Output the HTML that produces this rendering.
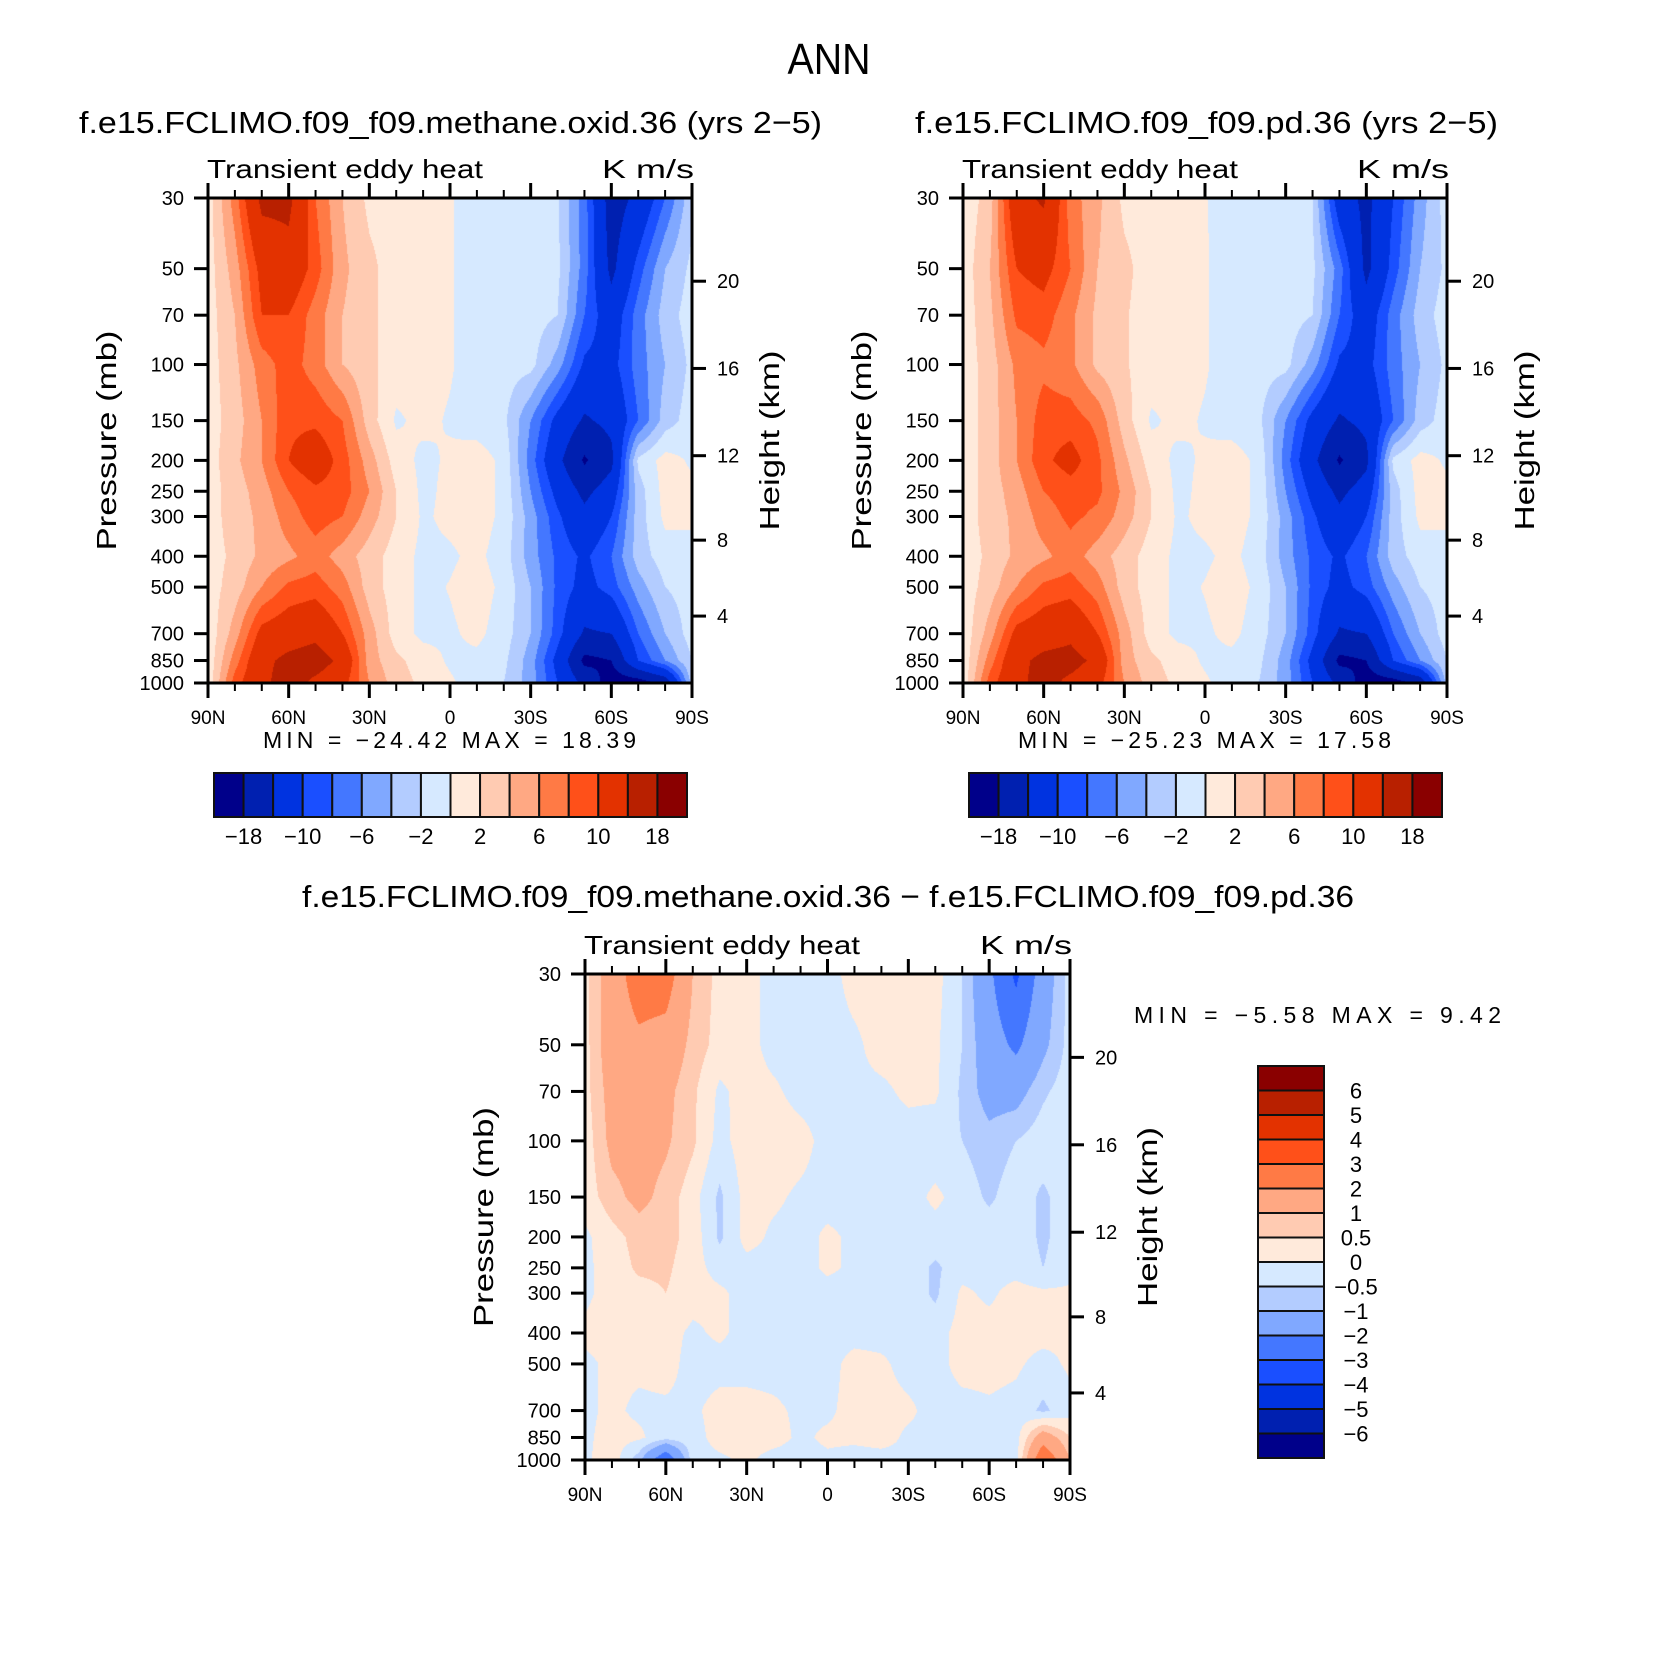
<!DOCTYPE html>
<html><head><meta charset="utf-8">
<style>
html,body{margin:0;padding:0;background:#fff;}
#root{position:relative;width:1658px;height:1660px;overflow:hidden;background:#fff;}
canvas{position:absolute;}
svg{position:absolute;left:0;top:0;}
text{font-family:"Liberation Sans",sans-serif;fill:#000;}
</style></head>
<body>
<div id="root">
<canvas id="c1" style="left:208px;top:198px" width="484" height="485"></canvas>
<canvas id="c2" style="left:963px;top:198px" width="484" height="485"></canvas>
<canvas id="c3" style="left:585px;top:974px" width="485" height="486"></canvas>
<svg id="ov" width="1658" height="1660">
<text x="829" y="74" font-size="44" text-anchor="middle" textLength="83" lengthAdjust="spacingAndGlyphs">ANN</text>
<text x="79" y="133" font-size="31" textLength="743" lengthAdjust="spacingAndGlyphs">f.e15.FCLIMO.f09_f09.methane.oxid.36 (yrs 2−5)</text>
<text x="915" y="133" font-size="31" textLength="583" lengthAdjust="spacingAndGlyphs">f.e15.FCLIMO.f09_f09.pd.36 (yrs 2−5)</text>
<text x="302" y="907" font-size="31" textLength="1052" lengthAdjust="spacingAndGlyphs">f.e15.FCLIMO.f09_f09.methane.oxid.36 − f.e15.FCLIMO.f09_f09.pd.36</text>
</svg>
</div>
<script>
// ---------- data ----------
const lats = [90,80,70,60,50,40,30,20,10,0,-10,-20,-30,-40,-50,-60,-70,-80,-90];
const plevs = [30,50,70,100,150,200,250,300,400,500,700,850,1000];
const pTicks = [30,50,70,100,150,200,250,300,400,500,700,850,1000];
const kmTicks = [4,8,12,16,20];
const latTickLabels = ["90N","60N","30N","0","30S","60S","90S"];
const levelsMain = [-18,-14,-10,-8,-6,-4,-2,0,2,4,6,8,10,14,18];
const levelsDiff = [-6,-5,-4,-3,-2,-1,-0.5,0,0.5,1,2,3,4,5,6];
const cbLabelsMain = ["−18","−10","−6","−2","2","6","10","18"];
const cbLabelsDiff = ["−6","−5","−4","−3","−2","−1","−0.5","0","0.5","1","2","3","4","5","6"];
const colors = ["#00008a","#0020b0","#0033e0","#1a4fff","#4477ff","#80a8ff","#b3ccff","#d6e9ff","#ffeadb","#ffcbb2","#ffa883","#ff7a45","#ff5019","#e33200","#b82000","#8a0000"];
const field1 = [
[1,7,15,15,8,4,1.5,1,1,0.2,-1,-1,-1,-1.8,-7,-16,-13,-8,-2.5],
[1,5,11,12.5,9,4.5,2.5,1,0.8,0.2,-1,-1,-1,-1.5,-7,-15,-9,-4,-1.5],
[1,4,10,10,7,4,2.5,1,0.8,0.2,-1,-1,-1,-2,-8,-12,-7,-3,-1],
[1,3.5,7,9,7,4,2.5,1,0.8,0.2,-1,-1,-1.3,-5,-10.5,-11,-7,-4,-1.5],
[1,3,6,9.5,9.5,8,3,-0.3,0.5,-0.2,-1,-1.5,-6,-11,-14.5,-13,-8,-3,-1],
[1,3.5,6,10,12,9,5,1,-0.5,0.3,1,-0.5,-7,-13,-18.5,-15,-1.5,0.8,-0.3],
[1,3,5,8,9.5,9,6,2,-0.5,0.5,1,-0.5,-6,-11,-15,-12,-3,0.8,0.5],
[1,3,4.5,7,9,8,5,2,-0.3,0.5,1,-0.5,-5,-9.5,-13,-10,-3,0.5,0.5],
[1,2.5,4.5,5.5,7,5,3,1,-0.5,-0.3,0.5,-1,-5,-8.5,-10.5,-8,-3,-1,-1],
[1,3,6,8.5,9,7,3,1,-0.5,0.1,1,-0.5,-4,-8.5,-11,-9,-5,-2,-1],
[0.5,5,11,12,13,10,5,1,-0.5,-0.3,0.5,-1,-4,-9,-14.5,-14,-8,-4,-1],
[0.5,7,13,15,16,13,5,2.5,1,-0.3,-0.5,-1.5,-5,-11,-19,-18,-10,-6,-2],
[0.5,9,13,16,13,11,6,3,1.5,0.3,-1,-2,-5,-10,-15,-20,-20,-17,-3]
];
const field2 = [
[0.5,3,13,14.5,7,4.5,1.5,1,1,0.1,-1,-1,-1,-2,-12,-15,-10,-5,-1],
[0.8,4,10,11,8,4,2.5,1,0.8,0.2,-1,-1,-1,-1.5,-7,-15,-9,-4,-1.5],
[0.8,3.5,8.5,9,6.5,3.5,2.2,1,0.8,0.2,-1,-1,-1,-2,-8,-12,-7,-3,-1],
[0.8,3,6.5,7.5,6.5,3.5,2.2,1,0.8,0.2,-1,-1,-1.3,-5,-10.5,-11,-7,-4,-1.5],
[0.8,3,6,9,9,7.5,3,-0.3,0.5,-0.2,-1,-1.5,-6,-11,-14.5,-13,-8,-3,-1],
[0.8,3,6,9.5,11,8.5,4.5,1,-0.5,0.3,1,-0.5,-7,-13,-18.5,-15,-1.5,0.8,-0.3],
[0.8,3,5,8,9,8.5,5.5,2,-0.5,0.5,1,-0.5,-6,-11,-15,-12,-3,0.8,0.5],
[0.8,3,4.5,7,8.5,7.5,5,2,-0.3,0.5,1,-0.5,-5,-9.5,-13,-10,-3,0.5,0.5],
[0.8,2.5,4.5,5.5,7,5,3,1,-0.5,-0.3,0.5,-1,-5,-8.5,-10.5,-8,-3,-1,-1],
[0.8,3,6,8.5,9,7,3,1,-0.5,0.1,1,-0.5,-4,-8.5,-11,-9,-5,-2,-1],
[0.5,5,11,12,13,10,5,1,-0.5,-0.3,0.5,-1,-4,-9,-14.5,-14,-8,-4,-1],
[0.5,7,13,15,15.5,13,5,2.5,1,-0.3,-0.5,-1.5,-5,-11,-19,-18,-10,-6,-2],
[0.5,9,13,15.5,13,11,6,3,1.5,0.3,-1,-2,-5,-10,-15,-20,-20,-17,-3]
];
const field3 = [
[0.3,1.5,2.5,2.5,1,0.3,0.2,-0.2,-0.2,-0.2,0.2,0.2,0.2,0.2,-0.5,-1.8,-3.2,-1.5,-0.3],
[0.3,1.5,1.8,1.6,0.8,0.3,0.2,-0.2,-0.2,-0.2,-0.1,0.2,0.2,0.1,-0.5,-1.5,-2.2,-1.2,-0.3],
[0.3,1.3,1.5,1.2,0.6,-0.1,0.2,0.1,-0.2,-0.2,-0.1,-0.1,0.1,0.1,-0.6,-1.3,-1.3,-0.6,-0.2],
[0.2,1.2,1.3,1.1,0.6,-0.2,0.3,0.3,0.2,-0.2,-0.2,-0.2,-0.2,-0.3,-0.5,-0.8,-0.5,-0.2,-0.2],
[0.2,0.8,1.2,0.8,0.2,-0.6,0.2,0.1,-0.1,-0.2,-0.2,-0.2,-0.2,0.1,-0.2,-0.6,-0.2,-0.6,-0.2],
[-0.1,0.3,0.7,0.7,0.3,-0.6,0.2,-0.1,-0.2,0.1,-0.1,-0.2,-0.2,-0.2,-0.2,-0.2,-0.2,-0.6,-0.2],
[-0.1,0.2,0.6,0.6,0.2,-0.2,-0.2,-0.2,-0.2,0.1,-0.1,-0.2,-0.2,-0.6,-0.2,-0.2,-0.2,-0.5,-0.2],
[-0.1,0.2,0.3,0.5,0.2,0.1,-0.2,-0.2,-0.2,-0.2,-0.2,-0.2,-0.2,-0.6,0.1,-0.1,0.2,0.1,0.1],
[0.1,0.2,0.2,0.2,-0.1,0.1,-0.2,-0.2,-0.1,-0.2,-0.2,-0.2,-0.2,-0.2,0.2,0.2,0.2,0.2,0.1],
[-0.1,0.1,0.1,0.2,-0.2,-0.2,-0.2,-0.2,-0.2,-0.2,0.2,0.1,-0.2,-0.2,0.2,0.2,0.1,-0.2,0.1],
[-0.1,0.1,-0.1,-0.1,-0.1,0.2,0.2,0.1,-0.1,-0.1,0.2,0.2,0.1,-0.2,-0.2,-0.1,-0.2,-0.6,-0.2],
[-0.1,0.2,0.1,-0.3,-0.2,0.2,0.2,0.2,-0.1,0.1,0.1,0.2,-0.1,-0.1,-0.2,-0.2,-0.2,1.5,0.5],
[-0.1,0.3,-0.8,-3,-0.2,-0.1,0.1,-0.2,-0.2,-0.1,-0.2,-0.2,-0.1,-0.2,-0.2,-0.2,-0.2,3,1]
];

// ---------- rendering ----------
const NS = "http://www.w3.org/2000/svg";
const ov = document.getElementById("ov");
const LP0 = Math.log10(30), LP1 = Math.log10(1000);
function yOfP(p, top, h){ return top + (Math.log10(p)-LP0)/(LP1-LP0)*h; }
function xOfLat(lat, left, w){ return left + (90-lat)/180*w; }
function pOfKm(z){ return z<=11 ? 1013.25*Math.pow(1-0.0065*z*1000/288.15,5.2559) : 226.32*Math.exp(-(z-11)/6.3416); }
function classify(v, levels){ let k=0; while(k<levels.length && v>=levels[k]) k++; return k; }
function hex(c){ return [parseInt(c.slice(1,3),16),parseInt(c.slice(3,5),16),parseInt(c.slice(5,7),16)]; }
const rgb = colors.map(hex);
const lplev = plevs.map(p=>Math.log10(p));

function drawField(id, field, levels){
  const cv=document.getElementById(id), ctx=cv.getContext("2d");
  const W=cv.width, H=cv.height, img=ctx.createImageData(W,H), d=img.data;
  const nj=lats.length-1;
  for(let py=0;py<H;py++){
    const lp=LP0+(py+0.5)/H*(LP1-LP0);
    let i=0; while(i<plevs.length-2 && lp>lplev[i+1]) i++;
    const fy=Math.min(1,Math.max(0,(lp-lplev[i])/(lplev[i+1]-lplev[i])));
    const r0=field[i], r1=field[i+1];
    for(let px=0;px<W;px++){
      const x=(px+0.5)/W*nj; let j=Math.min(nj-1,Math.floor(x)); const fx=x-j;
      const v=(r0[j]*(1-fx)+r0[j+1]*fx)*(1-fy)+(r1[j]*(1-fx)+r1[j+1]*fx)*fy;
      const c=rgb[classify(v,levels)], o=(py*W+px)*4;
      d[o]=c[0];d[o+1]=c[1];d[o+2]=c[2];d[o+3]=255;
    }
  }
  ctx.putImageData(img,0,0);
}
drawField("c1",field1,levelsMain);
drawField("c2",field2,levelsMain);
drawField("c3",field3,levelsDiff);

function line(x1,y1,x2,y2,w){
  const l=document.createElementNS(NS,"line");
  l.setAttribute("x1",x1);l.setAttribute("y1",y1);l.setAttribute("x2",x2);l.setAttribute("y2",y2);
  l.setAttribute("stroke","#000");l.setAttribute("stroke-width",w||3);
  ov.appendChild(l); return l;
}
function txt(s,x,y,size,anchor){
  const t=document.createElementNS(NS,"text");
  t.setAttribute("x",x);t.setAttribute("y",y);t.setAttribute("font-size",size);
  t.setAttribute("text-anchor",anchor||"start");t.textContent=s;
  ov.appendChild(t); return t;
}

function axes(L,T,W,H,minmaxText,mmX,mmY,mmLen){
  const R=L+W,B=T+H;
  const fr=document.createElementNS(NS,"rect");
  fr.setAttribute("x",L);fr.setAttribute("y",T);fr.setAttribute("width",W);fr.setAttribute("height",H);
  fr.setAttribute("fill","none");fr.setAttribute("stroke","#000");fr.setAttribute("stroke-width",3);
  
  
  ov.appendChild(fr);
  for(let lat=90;lat>=-90;lat-=10){
    const x=xOfLat(lat,L,W), major=(lat%30===0), len=major?15:8;
    const tb=line(x,B,x,B+len,major?3:2);
    
    
    const tt=line(x,T,x,T-len,major?3:2);
    
    
  }
  latTickLabels.forEach((s,k)=>{
    const t=txt(s,xOfLat(90-30*k,L,W),B+41,19,"middle");
    
    
  });
  pTicks.forEach(p=>{
    const y=yOfP(p,T,H);
    const tk=line(L-14,y,L,y,3);
    
    
    const t=txt(String(p),L-24,y+7,20,"end");
    
    
  });
  kmTicks.forEach(z=>{
    const y=yOfP(pOfKm(z),T,H);
    const tk=line(R,y,R+14,y,3);
    
    
    const t=txt(String(z),R+25,y+7,20,"start");
    
    
  });
  const pt=txt("Pressure (mb)",0,0,28,"middle");
  pt.setAttribute("transform",`translate(${L-92},${T+H*0.5}) rotate(-90)`);
  pt.setAttribute("textLength","220");pt.setAttribute("lengthAdjust","spacingAndGlyphs");
  
  
  const ht=txt("Height (km)",0,0,28,"middle");
  ht.setAttribute("transform",`translate(${R+87},${T+H*0.5}) rotate(-90)`);
  ht.setAttribute("textLength","180");ht.setAttribute("lengthAdjust","spacingAndGlyphs");
  
  
  const st=txt("Transient eddy heat",L-1,T-20,26,"start");
  st.setAttribute("textLength","276");st.setAttribute("lengthAdjust","spacingAndGlyphs");
  
  
  const un=txt("K m/s",R+2,T-20,26,"end");
  un.setAttribute("textLength","92");un.setAttribute("lengthAdjust","spacingAndGlyphs");
  
  
  const mm=txt(minmaxText,mmX,mmY,23,"start");
  mm.setAttribute("textLength",mmLen);mm.setAttribute("lengthAdjust","spacing");
  mm.style.whiteSpace="pre";
  
  
}
axes(208,198,484,485,"MIN = −24.42 MAX = 18.39",263,748,373);
axes(963,198,484,485,"MIN = −25.23 MAX = 17.58",1018,748,373);
axes(585,974,485,486,"MIN = −5.58 MAX = 9.42",1134,1023,367);

function hbar(L,T,W,H){
  const n=colors.length, bw=W/n;
  for(let k=0;k<n;k++){
    const r=document.createElementNS(NS,"rect");
    r.setAttribute("x",L+k*bw);r.setAttribute("y",T);r.setAttribute("width",bw);r.setAttribute("height",H);
    r.setAttribute("fill",colors[k]);r.setAttribute("stroke","#111");r.setAttribute("stroke-width",2);
    
    
    ov.appendChild(r);
  }
  cbLabelsMain.forEach((s,k)=>{
    const t=txt(s,L+(2*k+1)*bw,T+H+27,22,"middle");
    
    
  });
}
hbar(214,773,473,44);
hbar(969,773,473,44);

(function vbar(L,T,W,H){
  const n=colors.length, bh=H/n;
  for(let k=0;k<n;k++){
    const r=document.createElementNS(NS,"rect");
    r.setAttribute("x",L);r.setAttribute("y",T+H-(k+1)*bh);r.setAttribute("width",W);r.setAttribute("height",bh);
    r.setAttribute("fill",colors[k]);r.setAttribute("stroke","#111");r.setAttribute("stroke-width",2);
    
    
    ov.appendChild(r);
  }
  cbLabelsDiff.forEach((s,k)=>{
    const t=txt(s,L+W+32,T+H-(k+1)*bh+8,22,"middle");
    
    
  });
})(1258,1066,66,392);
</script>
</body></html>
